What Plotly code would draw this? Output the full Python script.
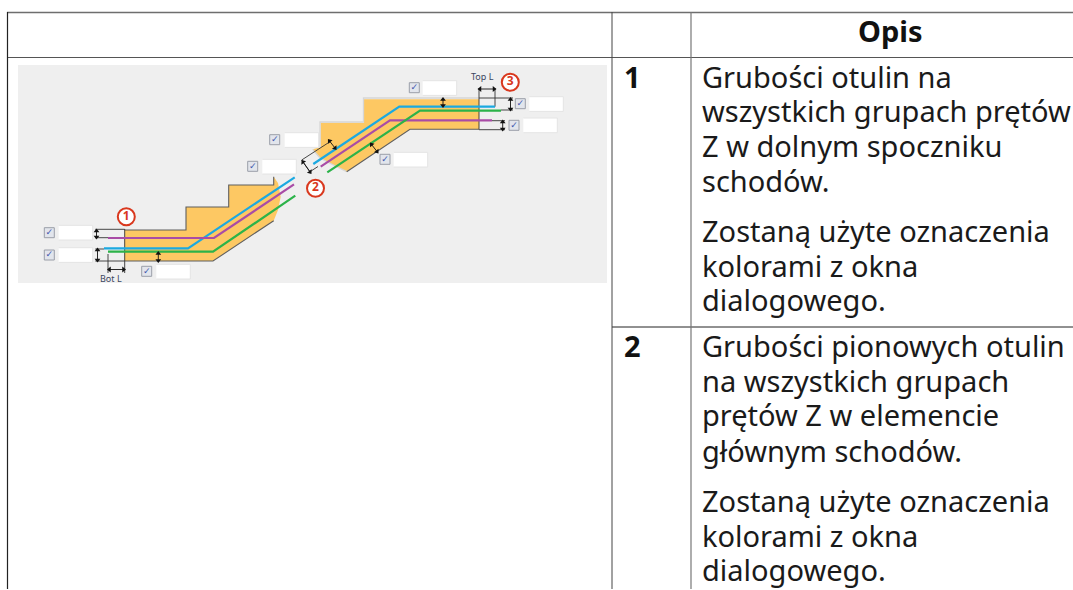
import math
import plotly.graph_objects as go

# --- table ---
table_hlines = [(7, 1073, 12.5, "#6e6e6e", 1.5), (7, 1073, 57.5, "#555555", 1.2), (612, 1073, 327, "#222222", 1)]
table_vlines = [(7.5, 12, 589, "#222222", 1.2), (612, 12, 589, "#444444", 1), (691, 12, 589, "#777777", 1.2)]
header_text = "Opis"
row_numbers = [("1", 76), ("2", 345)]
row_lines = [
    ("Grubości otulin na", 76), ("wszystkich grupach prętów", 110.7), ("Z w dolnym spoczniku", 145), ("schodów.", 180.7),
    ("Zostaną użyte oznaczenia", 230.7), ("kolorami z okna", 265.7), ("dialogowego.", 299.7),
    ("Grubości pionowych otulin", 345), ("na wszystkich grupach", 380.5), ("prętów Z w elemencie", 414.7), ("głównym schodów.", 450.5),
    ("Zostaną użyte oznaczenia", 500.7), ("kolorami z okna", 535), ("dialogowego.", 569.7),
]

# --- diagram ---
panel = [(18, 65), (607, 65), (607, 283), (18, 283)]
concrete_low = [(124.7, 230), (186, 230), (186, 207), (228.7, 207), (228.7, 185), (273.7, 185), (273.7, 176.7),
                (278, 183), (280.7, 196.7), (278, 210), (273.7, 220.7), (213, 261), (124.7, 261)]
concrete_high = [(479, 99.3), (364, 99.3), (364, 122.7), (320.7, 122.7), (320.7, 147.3), (312.7, 149.3),
                 (320, 158), (330, 163.3), (346.7, 171.7), (410, 129.3), (479, 129.3)]
bars = {
    "#1ba9e1": [[(104, 248.3), (188, 248.3), (294.7, 177.3)], [(313.3, 164), (399.3, 106.7), (495, 106.7)]],
    "#a94ca6": [[(108, 238), (214, 238), (294, 184.3)], [(320.7, 166.7), (390, 120.3), (492, 120.3)]],
    "#2cb34a": [[(108, 251.7), (213, 251.7), (295.3, 195.7)], [(327.3, 172.3), (420, 110.7), (501, 110.7)]],
}
dark_outlines = [
    [(124.7, 230), (186, 230), (186, 207), (228.7, 207), (228.7, 185), (273.7, 185), (273.7, 176.7)],
    [(124.7, 261), (213, 261), (273.7, 220.7)],
    [(346.7, 171.7), (410, 129.3), (479, 129.3)],
]
light_outlines = [
    [(479, 98), (363.5, 98), (363.5, 122), (320, 122), (320, 147.3)],
    [(312.7, 149.3), (320, 158), (330, 163.3), (346.7, 171.7)],
]
ext_lines = [
    [(95.3, 229.3), (124.7, 229.3)], [(95.3, 237.7), (108, 237.7)], [(95.3, 249), (104, 249)], [(95.3, 261), (124.7, 261)],
    [(124.7, 229), (124.7, 273)], [(108, 254), (108, 273)],
    [(479, 88), (479, 129.3)], [(495, 88), (495, 106.7)],
    [(479, 98), (513, 98)], [(501, 110), (513, 110)], [(492, 120.7), (505, 120.7)], [(479, 129.7), (505, 129.7)],
    [(301.7, 160), (330, 141.7)], [(301.7, 160), (310, 171.7)], [(310, 171.7), (318, 166.5)],
]
dim_arrows = [
    [(96.5, 231), (96.5, 237)], [(97.5, 250), (97.5, 260)], [(158.3, 253.5), (158.3, 260.5)],
    [(109.5, 269.5), (123.5, 269.5)], [(480, 89), (494, 89)],
    [(510.5, 99.5), (510.5, 109)], [(502.7, 122), (502.7, 129)], [(443, 99.5), (443, 105.5)],
    [(303, 162), (310, 172)], [(329.5, 141), (335, 148)], [(371.5, 144.5), (377, 151.5)],
]
input_boxes = [(58.7, 225.3), (58.7, 247.7), (156.3, 264.3), (284.7, 132.7), (262.3, 159.3),
               (422.7, 80.7), (529.3, 96.7), (523.3, 118), (393.7, 152.3)]
check_boxes = [(49.3, 232.7), (49.3, 255), (146.7, 271.3), (274.7, 139.7), (252.7, 166.3),
               (414.3, 87.7), (520.3, 103.7), (514, 125.3), (385, 159.3)]
callouts = [("1", 126.3, 216.7), ("2", 315.5, 188.3), ("3", 510.3, 82.3)]
dim_labels = [("Bot L", 110.7, 278.5), ("Top L", 482.3, 76.7)]

W, H = 1073, 590
BOX_W, BOX_H = 34, 14.7
FONT = "Noto Sans"
fig = go.Figure()


def poly(points, **kw):
    xs, ys = zip(*points)
    fig.add_trace(go.Scatter(x=xs, y=ys, hoverinfo="skip", showlegend=False, **kw))


poly(panel, mode="lines", fill="toself", fillcolor="#efefef", line=dict(width=0))
poly(concrete_low, mode="lines", fill="toself", fillcolor="#fdc863", line=dict(width=0))
poly(concrete_high, mode="lines", fill="toself", fillcolor="#fdc863", line=dict(width=0))
for o in light_outlines:
    poly(o, mode="lines", line=dict(color="#d6d6d6", width=1.3))
for o in dark_outlines:
    poly(o, mode="lines", line=dict(color="#5f5f5f", width=1.1))
for e in ext_lines:
    poly(e, mode="lines", line=dict(color="#333333", width=0.9))
for color, parts in bars.items():
    for p in parts:
        poly(p, mode="lines", line=dict(color=color, width=2.2))
for x, y in input_boxes:
    poly([(x, y), (x + BOX_W, y), (x + BOX_W, y + BOX_H), (x, y + BOX_H)], mode="lines", fill="toself",
         fillcolor="#ffffff", line=dict(color="#e4e4e4", width=1))
cx, cy = zip(*check_boxes)
fig.add_trace(go.Scatter(x=cx, y=cy, mode="markers+text", text=["<b>✓</b>"] * len(cx), textposition="middle center",
                         textfont=dict(size=9, color="#3f57ad", family="DejaVu Sans"),
                         marker=dict(symbol="square", size=10, color="#e2e5ec", line=dict(color="#9a9ea8", width=1)),
                         hoverinfo="skip", showlegend=False))
fig.add_trace(go.Scatter(x=[c[1] for c in callouts], y=[c[2] for c in callouts], mode="markers+text",
                         text=["<b>" + c[0] + "</b>" for c in callouts], textposition="middle center",
                         textfont=dict(size=12, color="#d9381e", family=FONT),
                         marker=dict(symbol="circle", size=17, color="#ffffff", line=dict(color="#d9381e", width=2)),
                         hoverinfo="skip", showlegend=False))
for a, b in dim_arrows:
    heading = math.degrees(math.atan2(b[0] - a[0], a[1] - b[1]))
    poly([a, b], mode="lines+markers", line=dict(color="#111111", width=0.9),
         marker=dict(symbol="triangle-up", size=5, color="#111111", angle=[heading + 180, heading]))
for t, x, y in dim_labels:
    fig.add_annotation(x=x, y=y, text=t, showarrow=False, font=dict(size=9, color="#3a4560", family=FONT))
for x0, x1, y, c, w in table_hlines:
    poly([(x0, y), (x1, y)], mode="lines", line=dict(color=c, width=w))
for x, y0, y1, c, w in table_vlines:
    poly([(x, y0), (x, y1)], mode="lines", line=dict(color=c, width=w))
fig.add_annotation(x=890, y=30, text="<b>" + header_text + "</b>", showarrow=False,
                   font=dict(size=29, color="#111111", family=FONT))
for t, y in row_numbers:
    fig.add_annotation(x=622, y=y, text="<b>" + t + "</b>", showarrow=False, xanchor="left",
                       font=dict(size=29, color="#111111", family=FONT))
for t, y in row_lines:
    fig.add_annotation(x=700, y=y, text=t, showarrow=False, xanchor="left",
                       font=dict(size=29, color="#1a1a1a", family=FONT))

fig.update_layout(
    width=W, height=H, margin=dict(l=0, r=0, t=0, b=0), paper_bgcolor="white", plot_bgcolor="white",
    xaxis=dict(range=[0, W], visible=False, fixedrange=True),
    yaxis=dict(range=[H, 0], visible=False, fixedrange=True),
    showlegend=False,
)
fig.write_html("out.html", config=dict(displayModeBar=False),
               post_script="document.body.style.margin='0';document.documentElement.style.overflow='hidden';")
